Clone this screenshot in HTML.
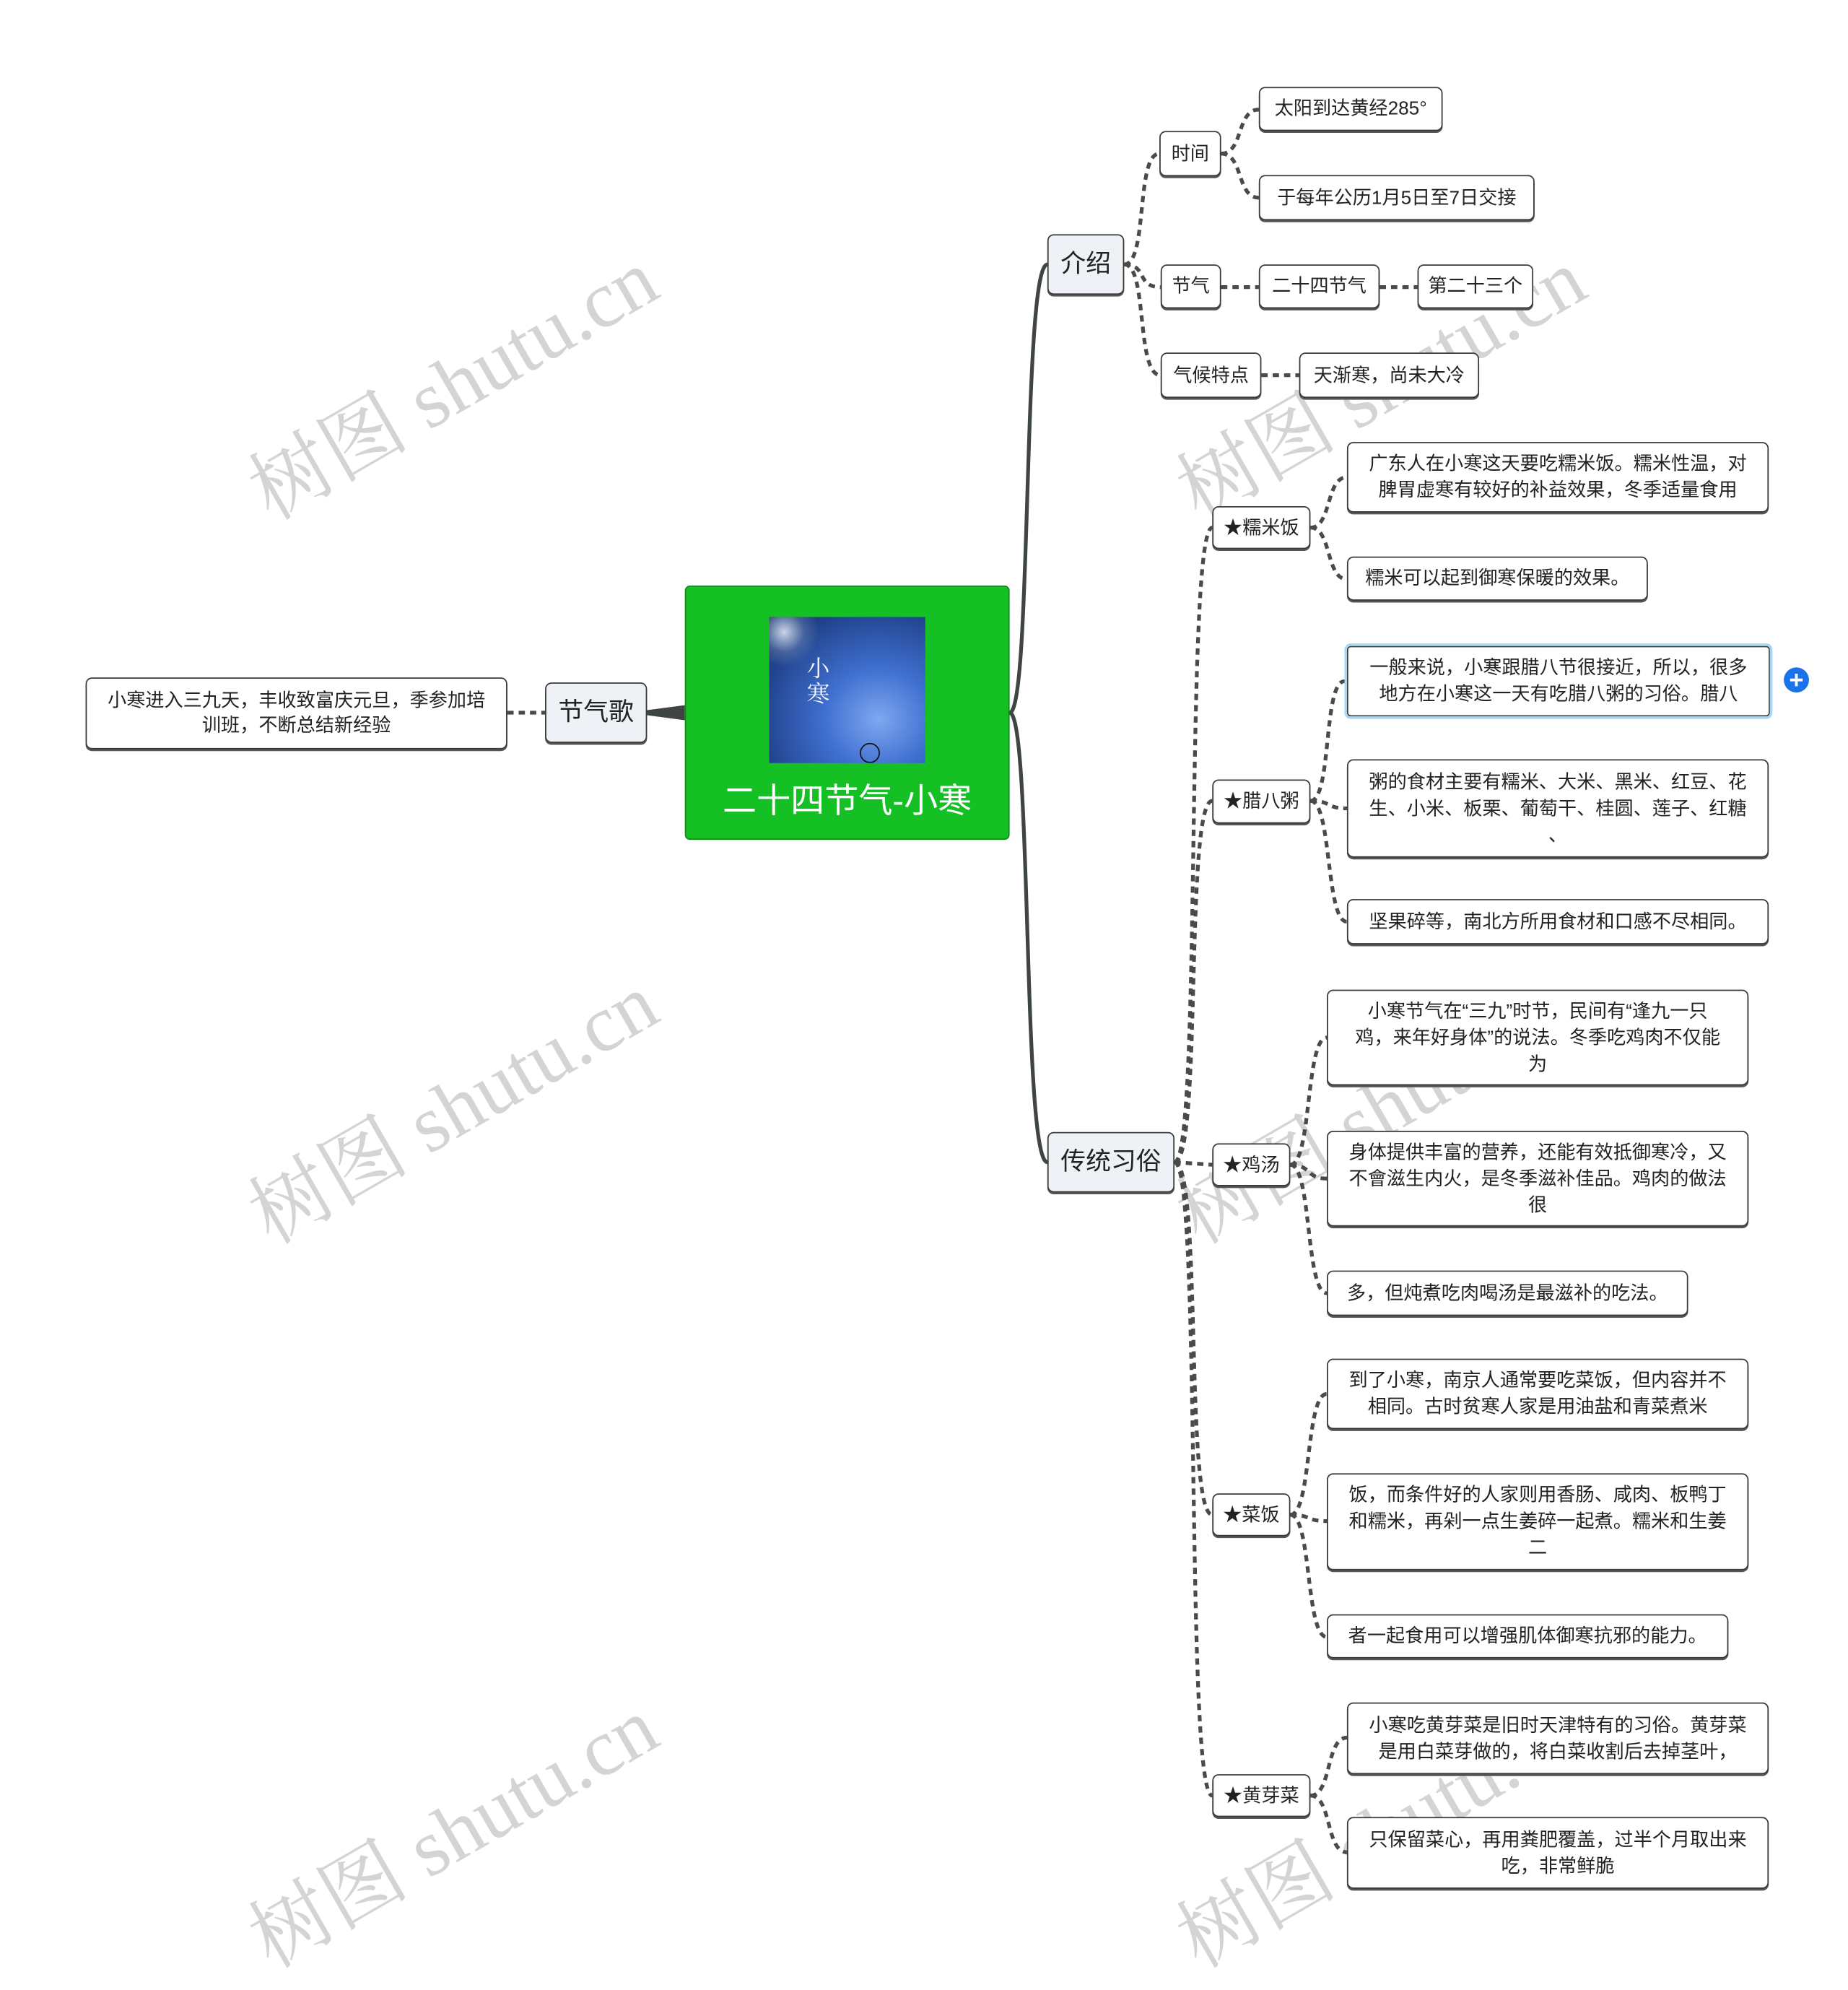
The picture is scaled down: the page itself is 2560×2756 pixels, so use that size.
<!DOCTYPE html>
<html><head><meta charset="utf-8">
<style>
html,body{margin:0;padding:0;background:#fff;}
body{width:2560px;height:2725px;overflow:hidden;position:relative;font-family:"Liberation Sans","Noto Sans CJK SC",sans-serif;}
#s{position:absolute;left:0;top:0;width:1468px;height:1563px;transform:scale(1.74387);transform-origin:0 0;}
.b{position:absolute;box-sizing:border-box;border:1.3px solid #3a3a3a;border-radius:5px;background:#fff;color:#222;font-size:15px;line-height:21px;text-align:center;display:flex;align-items:center;justify-content:center;box-shadow:0 1.5px 0 #555;white-space:nowrap;}
.t{background:#eef2f6;font-size:20px;}
.w{position:absolute;font-family:"Liberation Serif","Noto Serif CJK SC",serif;font-size:64px;color:#d4d4d4;transform:rotate(-30deg);white-space:nowrap;transform-origin:center;}
svg{position:absolute;left:0;top:0;}
</style></head><body><div id="s">
<div class="w" style="left:178px;top:255px">树图 shutu.cn</div>
<div class="w" style="left:915px;top:255px">树图 shutu.cn</div>
<div class="w" style="left:178px;top:830px">树图 shutu.cn</div>
<div class="w" style="left:915px;top:830px">树图 shutu.cn</div>
<div class="w" style="left:178px;top:1405px">树图 shutu.cn</div>
<div class="w" style="left:915px;top:1405px">树图 shutu.cn</div>

<svg width="1468" height="1563">
<g fill="none" stroke="#3f4540" stroke-width="3">
<path d="M802,566 C820,566 812,210 832,210"/>
<path d="M802,566 C820,566 812,923 832,923"/>
</g>
<path d="M544,560 L514,564 L514,568 L544,572 Z" fill="#3f4540"/>
<g fill="none" stroke="#4a4a4a" stroke-width="3" stroke-dasharray="5 4">
<path d="M403,566 L433,566"/>
<path d="M893,210 C912,210 902,122 921,122"/>
<path d="M893,210 C912,210 902,228 922,228"/>
<path d="M893,210 C912,210 902,298 922,298"/>
<path d="M970,122 C988,122 982,87 1000,87"/>
<path d="M970,122 C988,122 982,157 1000,157"/>
<path d="M970,228 L1000,228"/><path d="M1096,228 L1126,228"/>
<path d="M1002,298 L1032,298"/>
<path d="M933,923 C955,923 941,419 963,419"/>
<path d="M933,923 C955,923 941,636 963,636"/>
<path d="M933,923 L963,925"/>
<path d="M933,923 C955,923 941,1203 963,1203"/>
<path d="M933,923 C955,923 941,1426 963,1426"/>
<path d="M1041,419 C1058,419 1053,379 1070,379"/>
<path d="M1041,419 C1058,419 1053,460 1070,460"/>
<path d="M1041,636 C1058,636 1051,541 1068,541"/>
<path d="M1041,636 C1058,636 1053,642 1070,642"/>
<path d="M1041,636 C1058,636 1053,732 1070,732"/>
<path d="M1025,925 C1042,925 1037,824 1054,824"/>
<path d="M1025,925 C1042,925 1037,936 1054,936"/>
<path d="M1025,925 C1042,925 1037,1027 1054,1027"/>
<path d="M1025,1203 C1042,1203 1037,1107 1054,1107"/>
<path d="M1025,1203 C1042,1203 1037,1208 1054,1208"/>
<path d="M1025,1203 C1042,1203 1037,1300 1054,1300"/>
<path d="M1041,1426 C1058,1426 1053,1380 1070,1380"/>
<path d="M1041,1426 C1058,1426 1053,1471 1070,1471"/>
</g>
<circle cx="1427" cy="540" r="10" fill="#1a73e8"/>
<path d="M1422,540 H1432 M1427,535 V545" stroke="#fff" stroke-width="2.2"/>
</svg>

<div style="position:absolute;left:544px;top:465px;width:258px;height:202px;box-sizing:border-box;background:#14c024;border:1.5px solid #0e8a1a;border-radius:4px;"></div>
<div style="position:absolute;left:611px;top:490px;width:124px;height:116px;background:radial-gradient(ellipse at 70% 70%,#7fa8f0 0%,#3f6fd0 35%,#22448e 75%,#1a2f66 100%);overflow:hidden;">
<div style="position:absolute;left:0;top:0;width:40px;height:40px;background:radial-gradient(circle at 30% 30%,#c8d4e8 0%,rgba(150,170,200,.3) 40%,transparent 70%)"></div>
<div style="position:absolute;left:30px;top:30px;color:#fff;font-size:18px;line-height:20px;font-family:'Noto Serif CJK SC',serif;">小<br>寒</div>
<div style="position:absolute;left:72px;top:100px;width:14px;height:14px;border:1px solid #111;border-radius:50%"></div>
</div>
<div style="position:absolute;left:544px;top:616px;width:258px;text-align:center;color:#fff;font-size:27px;line-height:40px;">二十四节气-小寒</div>

<div class="b" style="left:68px;top:538px;width:335px;height:57px;line-height:20px">小寒进入三九天，丰收致富庆元旦，季参加培<br>训班，不断总结新经验</div>
<div class="b t" style="left:433px;top:542px;width:81px;height:48px">节气歌</div>
<div class="b t" style="left:832px;top:186px;width:61px;height:48px">介绍</div>
<div class="b t" style="left:832px;top:899px;width:101px;height:48px">传统习俗</div>

<div class="b" style="left:921px;top:104px;width:49px;height:36px">时间</div>
<div class="b" style="left:1000px;top:69px;width:146px;height:35px">太阳到达黄经285°</div>
<div class="b" style="left:1000px;top:139px;width:219px;height:36px">于每年公历1月5日至7日交接</div>
<div class="b" style="left:922px;top:210px;width:48px;height:35px">节气</div>
<div class="b" style="left:1000px;top:210px;width:96px;height:35px">二十四节气</div>
<div class="b" style="left:1126px;top:210px;width:92px;height:35px">第二十三个</div>
<div class="b" style="left:922px;top:280px;width:80px;height:36px">气候特点</div>
<div class="b" style="left:1032px;top:280px;width:143px;height:36px">天渐寒，尚未大冷</div>

<div class="b" style="left:963px;top:402px;width:78px;height:34px">★糯米饭</div>
<div class="b" style="left:963px;top:619px;width:78px;height:35px">★腊八粥</div>
<div class="b" style="left:963px;top:908px;width:62px;height:34px">★鸡汤</div>
<div class="b" style="left:963px;top:1186px;width:62px;height:34px">★菜饭</div>
<div class="b" style="left:963px;top:1409px;width:78px;height:34px">★黄芽菜</div>

<div class="b" style="left:1070px;top:351px;width:335px;height:56px">广东人在小寒这天要吃糯米饭。糯米性温，对<br>脾胃虚寒有较好的补益效果，冬季适量食用</div>
<div class="b" style="left:1070px;top:442px;width:239px;height:35px">糯米可以起到御寒保暖的效果。</div>
<div class="b" style="left:1068px;top:511px;width:340px;height:60px;border:2px solid #a8d8f0;box-shadow:0 0 0 1px #3a3a3a inset">一般来说，小寒跟腊八节很接近，所以，很多<br>地方在小寒这一天有吃腊八粥的习俗。腊八</div>
<div class="b" style="left:1070px;top:603px;width:335px;height:78px">粥的食材主要有糯米、大米、黑米、红豆、花<br>生、小米、板栗、葡萄干、桂圆、莲子、红糖<br>、</div>
<div class="b" style="left:1070px;top:714px;width:335px;height:36px">坚果碎等，南北方所用食材和口感不尽相同。</div>
<div class="b" style="left:1054px;top:786px;width:335px;height:76px">小寒节气在“三九”时节，民间有“逢九一只<br>鸡，来年好身体”的说法。冬季吃鸡肉不仅能<br>为</div>
<div class="b" style="left:1054px;top:898px;width:335px;height:76px">身体提供丰富的营养，还能有效抵御寒冷，又<br>不會滋生内火，是冬季滋补佳品。鸡肉的做法<br>很</div>
<div class="b" style="left:1054px;top:1009px;width:287px;height:36px">多，但炖煮吃肉喝汤是最滋补的吃法。</div>
<div class="b" style="left:1054px;top:1079px;width:335px;height:56px">到了小寒，南京人通常要吃菜饭，但内容并不<br>相同。古时贫寒人家是用油盐和青菜煮米</div>
<div class="b" style="left:1054px;top:1170px;width:335px;height:77px">饭，而条件好的人家则用香肠、咸肉、板鸭丁<br>和糯米，再剁一点生姜碎一起煮。糯米和生姜<br>二</div>
<div class="b" style="left:1054px;top:1282px;width:319px;height:35px">者一起食用可以增强肌体御寒抗邪的能力。</div>
<div class="b" style="left:1070px;top:1352px;width:335px;height:57px">小寒吃黄芽菜是旧时天津特有的习俗。黄芽菜<br>是用白菜芽做的，将白菜收割后去掉茎叶，</div>
<div class="b" style="left:1070px;top:1443px;width:335px;height:57px">只保留菜心，再用粪肥覆盖，过半个月取出来<br>吃，非常鲜脆</div>
</div></body></html>
